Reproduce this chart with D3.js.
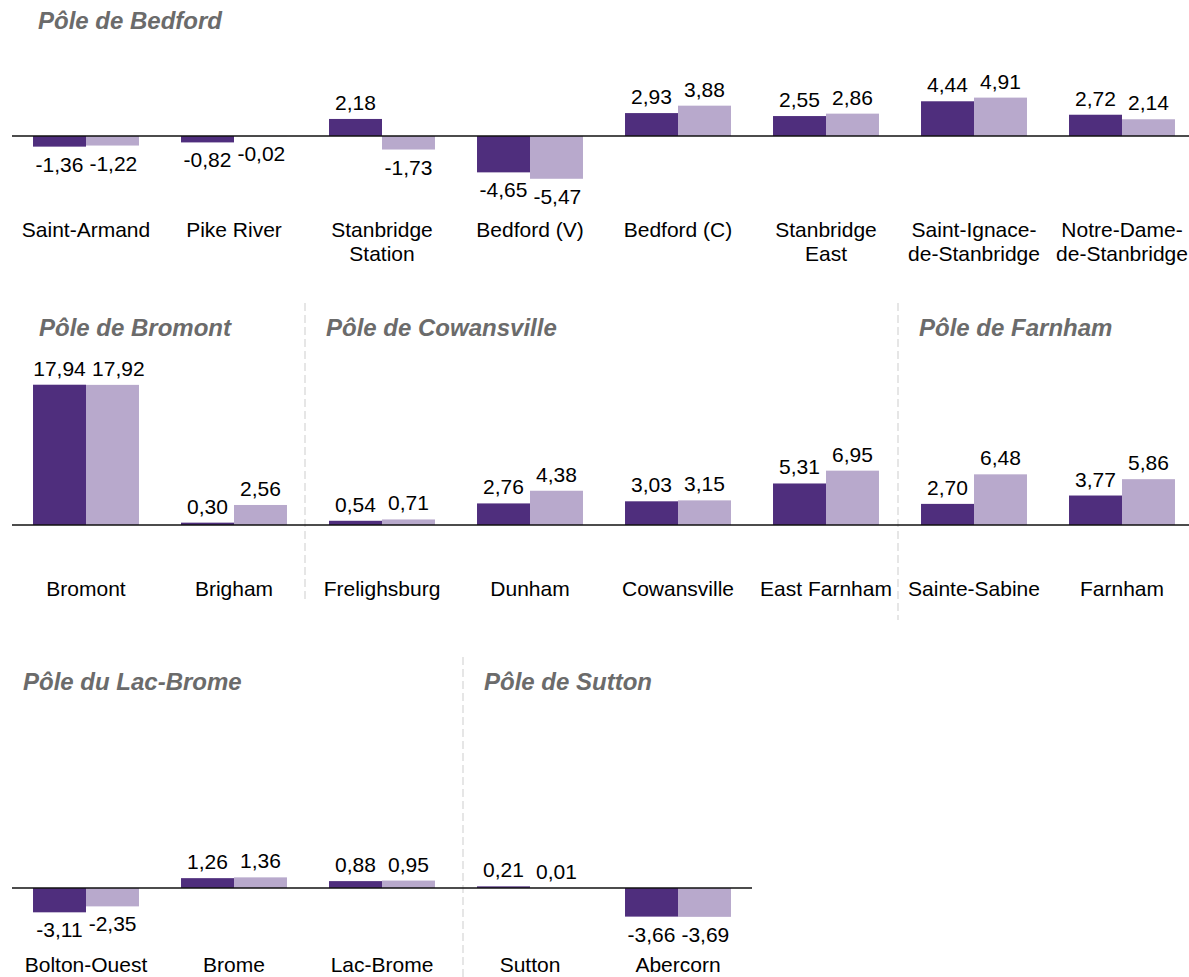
<!DOCTYPE html>
<html>
<head>
<meta charset="utf-8">
<script src="https://cdn.jsdelivr.net/npm/d3@7"></script>
<style>
  body { margin: 0; background: #fff; }
  svg { display: block; font-family: "Liberation Sans", Arial, sans-serif; }
</style>
</head>
<body>
<svg id="chart" width="1189" height="977"></svg>
<script>
// Poles (groups) and their municipalities
const poles = ["Pôle de Bedford", "Pôle de Bromont", "Pôle de Cowansville",
               "Pôle de Farnham", "Pôle du Lac-Brome", "Pôle de Sutton"];

const municipalities = [
  "Saint-Armand", "Pike River", "Stanbridge|Station", "Bedford (V)", "Bedford (C)",
  "Stanbridge|East", "Saint-Ignace-|de-Stanbridge", "Notre-Dame-|de-Stanbridge",
  "Bromont", "Brigham",
  "Frelighsburg", "Dunham", "Cowansville", "East Farnham",
  "Sainte-Sabine", "Farnham",
  "Bolton-Ouest", "Brome", "Lac-Brome",
  "Sutton", "Abercorn"
];

const poleOf = [0, 0, 0, 0, 0, 0, 0, 0, 1, 1, 2, 2, 2, 2, 3, 3, 4, 4, 4, 5, 5];

// two series (dark, light)
const seriesDark  = [-1.36, -0.82, 2.18, -4.65, 2.93, 2.55, 4.44, 2.72,
                     17.94, 0.30, 0.54, 2.76, 3.03, 5.31, 2.70, 3.77,
                     -3.11, 1.26, 0.88, 0.21, -3.66];
const seriesLight = [-1.22, -0.02, -1.73, -5.47, 3.88, 2.86, 4.91, 2.14,
                     17.92, 2.56, 0.71, 4.38, 3.15, 6.95, 6.48, 5.86,
                     -2.35, 1.36, 0.95, 0.01, -3.69];

const colors = ["#4f2e7d", "#b8a9cc"];

// layout of each pole on the page
const poleRow = [0, 1, 1, 1, 2, 2];
const poleTitleX = [38, 39, 326, 919, 23, 484];
const poleDivider = [null, null, 305, 898, null, 463];
const dividerSpan = [null, null, [303, 600], [303, 620], null, [657, 977]];

const rows = [
  { base: 136, title: 29,  label: 237, lineEnd: 1189 },
  { base: 525, title: 336, label: 596, lineEnd: 1189 },
  { base: 888, title: 690, label: 972, lineEnd: 752 }
];

const svg = d3.select("#chart");

// column index within each row
const colCounter = [0, 0, 0];
const items = municipalities.map((name, i) => {
  const row = poleRow[poleOf[i]];
  return { name, row, col: colCounter[row]++, values: [seriesDark[i], seriesLight[i]] };
});

const x = d3.scaleBand()
  .domain(d3.range(8))
  .range([12, 12 + 8 * 148])
  .paddingInner(0.284)
  .paddingOuter(0.142);

const xs = d3.scaleBand().domain([0, 1]).range([0, x.bandwidth()]);

const pxPerUnit = 7.82;

rows.forEach(r => {
  r.y = d3.scaleLinear().domain([0, 1]).range([r.base, r.base - pxPerUnit]);
});

// dividers
poles.forEach((p, pi) => {
  if (poleDivider[pi] == null) return;
  svg.append("line")
    .attr("x1", poleDivider[pi]).attr("x2", poleDivider[pi])
    .attr("y1", dividerSpan[pi][0]).attr("y2", dividerSpan[pi][1])
    .attr("stroke", "#d6d6d6")
    .attr("stroke-width", 1.2)
    .attr("stroke-dasharray", "8,4");
});

// titles
svg.selectAll("text.title")
  .data(poles)
  .join("text")
  .attr("class", "title")
  .attr("x", (d, i) => poleTitleX[i])
  .attr("y", (d, i) => rows[poleRow[i]].title)
  .attr("font-size", 24)
  .attr("font-weight", "bold")
  .attr("font-style", "italic")
  .attr("fill", "#6b6b6b")
  .text(d => d);

// groups
const g = svg.selectAll("g.muni")
  .data(items)
  .join("g")
  .attr("class", "muni")
  .attr("transform", d => `translate(${x(d.col)},0)`);

g.selectAll("rect")
  .data(d => d.values.map((v, k) => ({ v, k, y: rows[d.row].y })))
  .join("rect")
  .attr("x", d => xs(d.k))
  .attr("width", xs.bandwidth())
  .attr("y", d => Math.min(d.y(d.v), d.y(0)))
  .attr("height", d => Math.abs(d.y(d.v) - d.y(0)))
  .attr("fill", d => colors[d.k]);

g.selectAll("text.val")
  .data(d => d.values.map((v, k) => ({ v, k, y: rows[d.row].y })))
  .join("text")
  .attr("class", "val")
  .attr("x", d => xs(d.k) + xs.bandwidth() / 2)
  .attr("y", d => d.v >= 0 ? d.y(d.v) - 9 : d.y(d.v) + 25)
  .attr("text-anchor", "middle")
  .attr("font-size", 21)
  .attr("fill", "#000")
  .text(d => d3.format(".2f")(d.v).replace(".", ",").replace("−", "-"));

// push the second label right when the pair would touch
g.each(function() {
  const labels = d3.select(this).selectAll("text.val").nodes();
  const a = labels[0].getBBox(), b = labels[1].getBBox();
  const vOverlap = a.y < b.y + b.height && b.y < a.y + a.height;
  const gap = b.x - (a.x + a.width);
  if (vOverlap && gap < 6) {
    d3.select(labels[1]).attr("x", +d3.select(labels[1]).attr("x") + (6 - gap));
  }
});

g.append("text")
  .attr("class", "cat")
  .attr("text-anchor", "middle")
  .attr("font-size", 21)
  .attr("fill", "#000")
  .selectAll("tspan")
  .data(d => d.name.split("|").map((t, li) => ({ t, li, row: d.row })))
  .join("tspan")
  .attr("x", x.bandwidth() / 2)
  .attr("y", d => rows[d.row].label + d.li * 24)
  .text(d => d.t);

// baselines
svg.selectAll("line.base")
  .data(rows)
  .join("line")
  .attr("class", "base")
  .attr("x1", 12)
  .attr("x2", d => d.lineEnd)
  .attr("y1", d => d.y(0))
  .attr("y2", d => d.y(0))
  .attr("stroke", "#111")
  .attr("stroke-width", 1.5);
</script>
</body>
</html>
